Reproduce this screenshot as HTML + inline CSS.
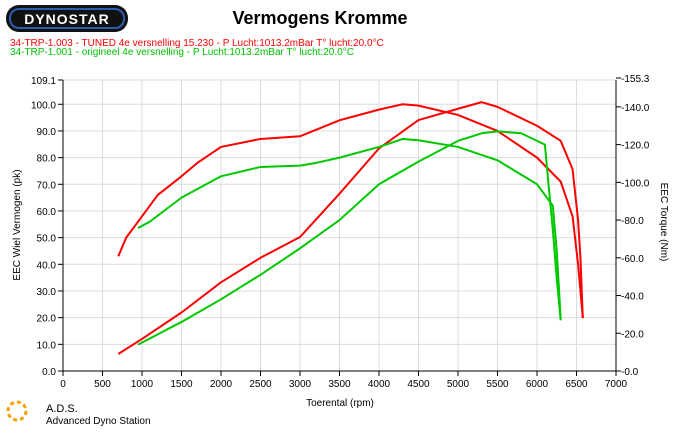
<!DOCTYPE html>
<html><head><meta charset="utf-8"><style>
body{margin:0;background:#fff;font-family:"Liberation Sans",sans-serif;}
svg text{font-family:"Liberation Sans",sans-serif;}
</style></head><body>
<svg id="chart" width="685" height="428" viewBox="0 0 685 428" xmlns="http://www.w3.org/2000/svg">
<rect width="685" height="428" fill="#fff"/>
<g>
<rect x="6" y="5" width="122" height="27" rx="13" fill="#111"/>
<rect x="10" y="9" width="114" height="19" rx="9" fill="none" stroke="#2a5db0" stroke-width="2"/>
<text x="67" y="24" font-size="14" font-weight="bold" fill="#fff" text-anchor="middle" letter-spacing="1">DYNOSTAR</text>
</g>
<text x="320" y="24" font-size="18" font-weight="bold" text-anchor="middle" fill="#000">Vermogens Kromme</text>
<text x="10" y="46" font-size="10" fill="#ff0000">34-TRP-1.003 - TUNED 4e versnelling 15.230  - P Lucht:1013.2mBar T° lucht:20.0°C</text>
<text x="10" y="55" font-size="10" fill="#00c000">34-TRP-1.001 - origineel 4e versnelling  - P Lucht:1013.2mBar T° lucht:20.0°C</text>
<g id="grid"></g><g id="axes"></g><g id="series"></g>
<text x="340" y="406" font-size="10" text-anchor="middle">Toerental (rpm)</text>
<text transform="translate(20,225) rotate(-90)" font-size="10" text-anchor="middle">EEC Wiel Vermogen (pk)</text>
<text transform="translate(661,222) rotate(90)" font-size="10" text-anchor="middle">EEC Torque (Nm)</text>
<g>
<circle cx="17" cy="411" r="9" fill="none" stroke="#f5a000" stroke-width="3" stroke-dasharray="4 3"/>
<text x="46" y="412" font-size="11">A.D.S.</text>
<text x="46" y="424" font-size="10">Advanced Dyno Station</text>
</g>
</svg>
<script>
const rpmTicks=[0,500,1000,1500,2000,2500,3000,3500,4000,4500,5000,5500,6000,6500,7000];
const pkTicks=[0,10,20,30,40,50,60,70,80,90,100,109.1];
const nmTicks=[0,20,40,60,80,100,120,140,155.3];
const tunedRpm=[700,800,1000,1200,1500,1700,2000,2500,3000,3500,4000,4300,4500,5000,5500,6000,6300,6450,6520,6550,6580];
const tunedPk=[43,50,58,66,73,78,84,87,88,94,98,100,99.5,96,90,80,71,58,40,30,20];
const tunedRpmT=[700,1000,1500,2000,2500,3000,3500,4000,4500,5000,5300,5500,6000,6300,6450,6520,6550,6580];
const tunedNm=[9,17,31,47,60,71,94,118,133,139,142.5,140,130,122,107,80,60,28];
const origRpm=[950,1100,1500,2000,2500,3000,3200,3500,4000,4300,4500,5000,5500,6000,6200,6250,6280,6300];
const origPk=[53.6,56,65,73,76.5,77,78,80,84,87,86.5,84,79,70,62,45,30,19];
const origRpmT=[950,1500,2000,2500,3000,3500,4000,4500,5000,5300,5500,5800,6100,6150,6200,6250,6300];
const origNm=[14,26,38,51,65,80,99,111,122,126,127,126,120,97,75,49,27];
const X0=63,X1=616,Y0=371,YT=80;
const x=r=>X0+(r/7000)*(X1-X0);
const yL=v=>Y0-(v/109.1)*(Y0-YT);
const yR=v=>Y0-(v/155.3)*(Y0-78);
const NS="http://www.w3.org/2000/svg";
function mk(p,t,a){const e=document.createElementNS(NS,t);for(const k in a)e.setAttribute(k,a[k]);p.appendChild(e);return e;}
const g=document.getElementById('grid'),ax=document.getElementById('axes'),s=document.getElementById('series');
rpmTicks.forEach(r=>{
 const l=mk(g,'line',{x1:x(r),x2:x(r),y1:YT,y2:Y0,stroke:'#dcdcdc'});
 
 
 mk(ax,'line',{x1:x(r),x2:x(r),y1:Y0,y2:Y0+5,stroke:'#000'});
 const t=mk(ax,'text',{x:x(r),y:Y0+16,'font-size':10,'text-anchor':'middle'});t.textContent=r;
 
 
});
pkTicks.forEach(v=>{
 const l=mk(g,'line',{x1:X0,x2:X1,y1:yL(v),y2:yL(v),stroke:'#dcdcdc'});
 
 
 mk(ax,'line',{x1:X0-5,x2:X0,y1:yL(v),y2:yL(v),stroke:'#000'});
 const t=mk(ax,'text',{x:X0-7,y:yL(v)+4,'font-size':10,'text-anchor':'end'});t.textContent=v.toFixed(1);
 
 
});
nmTicks.forEach(v=>{
 mk(ax,'line',{x1:X1,x2:X1+5,y1:yR(v),y2:yR(v),stroke:'#000'});
 const t=mk(ax,'text',{x:X1+5,y:yR(v)+4,'font-size':10});t.textContent='-'+v.toFixed(1);
 
 
});
mk(ax,'line',{x1:X0,x2:X0,y1:YT,y2:Y0,stroke:'#000'});
mk(ax,'line',{x1:X0,x2:X1,y1:Y0,y2:Y0,stroke:'#000'});
mk(ax,'line',{x1:X1,x2:X1,y1:YT,y2:Y0,stroke:'#000'});
function series(rs,vs,yf,col,name){
 const pl=mk(s,'polyline',{points:rs.map((r,i)=>x(r)+','+yf(vs[i])).join(' '),fill:'none',stroke:col,'stroke-width':2,'stroke-linejoin':'round'});
 
 
}
series(tunedRpm,tunedPk,yL,'#ff0000','tuned-power-line');
series(tunedRpmT,tunedNm,yR,'#ff0000','tuned-torque-line');
series(origRpm,origPk,yL,'#00c800','origineel-power-line');
series(origRpmT,origNm,yR,'#00c800','origineel-torque-line');
</script>
</body></html>
